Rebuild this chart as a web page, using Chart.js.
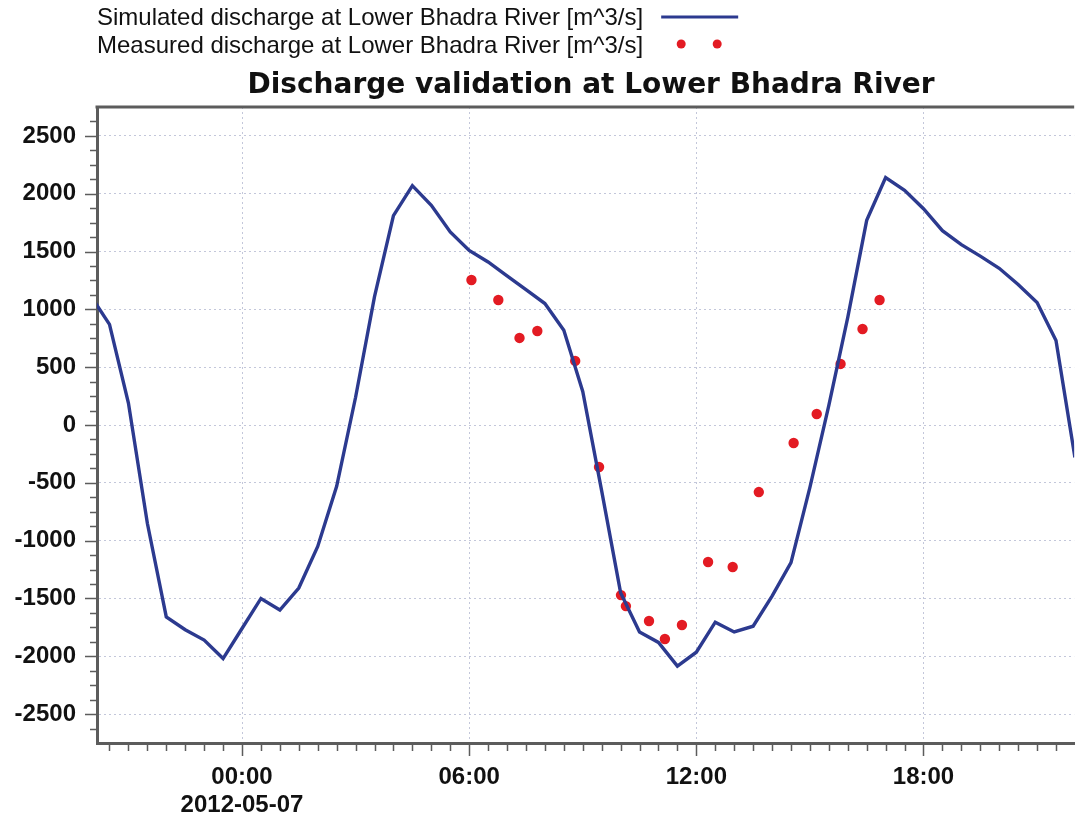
<!DOCTYPE html>
<html>
<head>
<meta charset="utf-8">
<title>Discharge validation at Lower Bhadra River</title>
<script src="https://cdn.jsdelivr.net/npm/chart.js@4.4.1/dist/chart.umd.min.js"></script>
<style>
    html, body { margin: 0; padding: 0; background: #fff; overflow: hidden; }
    #wrap { width: 1077px; height: 824px; }
</style>
</head>
<body>
<div id="wrap"><canvas id="grafikDebit" width="1077" height="824"></canvas></div>
<script>
// === 1. DATA (time in hours from 2012-05-07 00:00) ===
const simHours = [-4, -3.5, -3, -2.5, -2, -1.5, -1, -0.5, 0, 0.5, 1, 1.5, 2, 2.5, 3, 3.5, 4, 4.5,
    5, 5.5, 6, 6.5, 7, 7.5, 8, 8.5, 9, 9.5, 10, 10.5, 11, 11.5, 12, 12.5, 13, 13.5, 14, 14.5,
    15, 15.5, 16, 16.5, 17, 17.5, 18, 18.5, 19, 19.5, 20, 20.5, 21, 21.5, 22];
const simValues = [1120, 870, 190, -850, -1660, -1770, -1860, -2020, -1760, -1500, -1600, -1410, -1050, -530, 240, 1110, 1810, 2070,
    1900, 1670, 1510, 1410, 1290, 1170, 1050, 820, 290, -570, -1450, -1790, -1880, -2085, -1965, -1705, -1790, -1740, -1480, -1190,
    -540, 170, 930, 1770, 2140, 2030, 1870, 1680, 1560, 1460, 1355, 1215, 1060, 730, -280];

const measHours = [6.06, 6.77, 7.33, 7.80, 8.80, 9.43, 10.01, 10.14, 10.75, 11.17, 11.62, 12.31, 12.96, 13.65, 14.57, 15.18, 15.81, 16.39, 16.84];
const measValues = [1254, 1081, 753, 813, 554, -363, -1471, -1566, -1695, -1851, -1730, -1185, -1228, -580, -156, 95, 528, 830, 1081];

const xLabelHours = [0, 6, 12, 18];
const xLabels = ['00:00', '06:00', '12:00', '18:00'];
const dateLabel = '2012-05-07';
const yLabelValues = [-2500, -2000, -1500, -1000, -500, 0, 500, 1000, 1500, 2000, 2500];

const X_MIN = -3.83, X_MAX = 21.98;
const Y_MIN = -2750, Y_MAX = 2750;

// === 2. STYLE ===
const FONT = '"Liberation Sans", Arial, sans-serif';
const TITLE_FONT = '"DejaVu Sans", Verdana, sans-serif';
const SIM_COLOR = '#2c3a8f';
const MEAS_COLOR = '#e31b23';
const GRID_COLOR = '#c3c7da';
const AXIS_COLOR = '#5c5c5c';
const TEXT_COLOR = '#111111';
const TITLE = 'Discharge validation at Lower Bhadra River';

// minor ticks: every 30 min on x, every 125 on y
const xTicks = [];
for (let h = -3.5; h <= 21.5; h += 0.5) xTicks.push(h);
const yTicks = [];
for (let v = -2625; v <= 2625; v += 125) yTicks.push(v);

const isMajorX = v => xLabelHours.includes(v);
const isMajorY = v => yLabelValues.includes(v);

// === 3. PLUGIN: frame, tick marks, title, legend ===
const framePlugin = {
    id: 'frame',
    afterDraw(chart) {
        const { ctx, chartArea: a, scales: { x, y } } = chart;
        ctx.save();

        // top border
        ctx.strokeStyle = AXIS_COLOR;
        ctx.lineWidth = 3;
        ctx.beginPath();
        ctx.moveTo(a.left - 1.5, a.top);
        ctx.lineTo(a.right, a.top);
        ctx.stroke();

        // tick marks
        ctx.lineWidth = 1.5;
        ctx.beginPath();
        x.ticks.forEach(t => {
            const px = Math.round(x.getPixelForValue(t.value)) + 0.5;
            const len = isMajorX(t.value) ? 13 : 8;
            ctx.moveTo(px, a.bottom + 1);
            ctx.lineTo(px, a.bottom + len);
        });
        y.ticks.forEach(t => {
            const py = Math.round(y.getPixelForValue(t.value)) + 0.5;
            const len = isMajorY(t.value) ? 12 : 7;
            ctx.moveTo(a.left - 1, py);
            ctx.lineTo(a.left - len, py);
        });
        ctx.stroke();

        // title
        ctx.fillStyle = TEXT_COLOR;
        ctx.font = 'bold 28px ' + TITLE_FONT;
        ctx.textAlign = 'center';
        ctx.textBaseline = 'alphabetic';
        ctx.fillText(TITLE, 591, 93);

        // legend (text first, symbol after)
        const ds = chart.data.datasets;
        ctx.font = '24px ' + FONT;
        ctx.textAlign = 'left';
        const textW = Math.max(...ds.map(d => ctx.measureText(d.label).width));
        const symX = 97 + textW + 18;
        const rows = [17, 45];
        ds.forEach((d, i) => {
            ctx.fillStyle = TEXT_COLOR;
            ctx.fillText(d.label, 97, rows[i] + 8);
            if (i === 0) {
                ctx.strokeStyle = d.borderColor;
                ctx.lineWidth = 3;
                ctx.beginPath();
                ctx.moveTo(symX, rows[i]);
                ctx.lineTo(symX + 77, rows[i]);
                ctx.stroke();
            } else {
                ctx.fillStyle = d.pointBackgroundColor;
                [symX + 20, symX + 56].forEach(cx => {
                    ctx.beginPath();
                    ctx.arc(cx, rows[i] - 1, 4.5, 0, Math.PI * 2);
                    ctx.fill();
                });
            }
        });
        ctx.restore();
    }
};

// === 4. CHART ===
const tickFont = { family: FONT, size: 24, weight: 'bold', lineHeight: 1.15 };

new Chart(document.getElementById('grafikDebit'), {
    type: 'line',
    data: {
        datasets: [{
            label: 'Simulated discharge at Lower Bhadra River [m^3/s]',
            data: simHours.map((h, i) => ({ x: h, y: simValues[i] })),
            borderColor: SIM_COLOR,
            borderWidth: 3.4,
            pointRadius: 0,
            tension: 0,
            fill: false
        }, {
            label: 'Measured discharge at Lower Bhadra River [m^3/s]',
            data: measHours.map((h, i) => ({ x: h, y: measValues[i] })),
            showLine: false,
            pointRadius: 5.2,
            pointBorderWidth: 0,
            pointBackgroundColor: MEAS_COLOR,
            borderColor: MEAS_COLOR
        }]
    },
    options: {
        responsive: false,
        animation: false,
        devicePixelRatio: 1,
        layout: { autoPadding: false, padding: { top: 107, left: 0, right: 0, bottom: 0 } },
        plugins: {
            legend: { display: false },
            title: { display: false },
            tooltip: { enabled: false }
        },
        scales: {
            x: {
                type: 'linear',
                min: X_MIN,
                max: X_MAX,
                afterBuildTicks: axis => { axis.ticks = xTicks.map(v => ({ value: v })); },
                afterFit: scale => { scale.height = 81; },
                grid: {
                    color: c => (c.tick && isMajorX(c.tick.value)) ? GRID_COLOR : 'transparent',
                    lineWidth: 1,
                    drawTicks: false
                },
                border: { display: true, color: AXIS_COLOR, width: 3, dash: [2, 3] },
                ticks: {
                    autoSkip: false,
                    maxRotation: 0,
                    padding: 21,
                    color: TEXT_COLOR,
                    font: tickFont,
                    callback: v => {
                        const k = xLabelHours.indexOf(v);
                        if (k < 0) return '';
                        return v === 0 ? [xLabels[k], dateLabel] : xLabels[k];
                    }
                }
            },
            y: {
                min: Y_MIN,
                max: Y_MAX,
                afterBuildTicks: axis => { axis.ticks = yTicks.map(v => ({ value: v })); },
                afterFit: scale => { scale.width = 97; },
                grid: {
                    color: c => (c.tick && isMajorY(c.tick.value)) ? GRID_COLOR : 'transparent',
                    lineWidth: 1,
                    drawTicks: false
                },
                border: { display: true, color: AXIS_COLOR, width: 3, dash: [2, 3] },
                ticks: {
                    autoSkip: false,
                    padding: 21,
                    color: TEXT_COLOR,
                    font: { family: FONT, size: 24, weight: 'bold' },
                    callback: v => isMajorY(v) ? String(v) : ''
                }
            }
        }
    },
    plugins: [framePlugin]
});
</script>
</body>
</html>
